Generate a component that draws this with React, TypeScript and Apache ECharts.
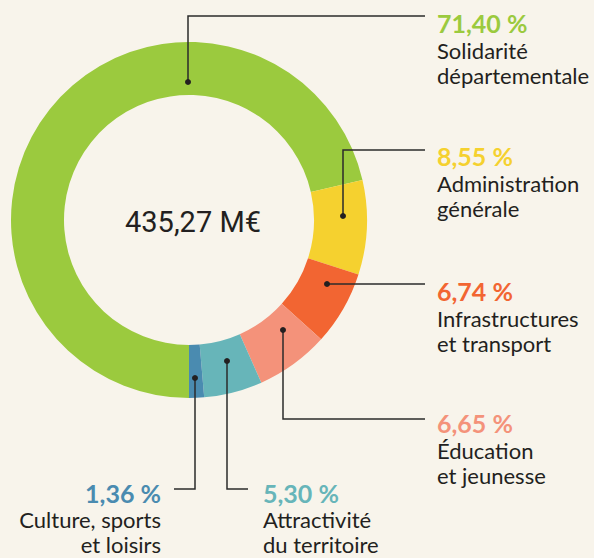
import React, { useEffect, useRef } from "react";
import * as echarts from "echarts";

const categories = [
  ["Solidarité", "départementale"],
  ["Administration", "générale"],
  ["Infrastructures", "et transport"],
  ["Éducation", "et jeunesse"],
  ["Attractivité", "du territoire"],
  ["Culture, sports", "et loisirs"],
];
const shares = [71.4, 8.55, 6.74, 6.65, 5.3, 1.36];
const colors = ["#9bca3e", "#f5d12f", "#f26532", "#f4927a", "#67b5b9", "#4a8bb0"];
const totalBudget = 435.27;

// annotation layout (leader lines and label anchors)
const leaders = [
  { pts: [[188, 82], [188, 16], [425, 16]], tx: 437, ty: 32, l1: 26, l2: 51, align: "left" },
  { pts: [[343, 216], [343, 150], [425, 150]], tx: 437, ty: 165, l1: 26, l2: 51, align: "left" },
  { pts: [[327, 284], [425, 284]], tx: 437, ty: 300, l1: 26, l2: 51, align: "left" },
  { pts: [[283, 330], [283, 419], [425, 419]], tx: 437, ty: 432, l1: 26, l2: 51, align: "left" },
  { pts: [[227, 361], [227, 489], [248, 489]], tx: 263, ty: 502, l1: 25, l2: 50, align: "left" },
  { pts: [[195, 378], [195, 489], [174, 489]], tx: 161, ty: 502, l1: 25, l2: 50, align: "right" },
];

const fmt = (v: number) => v.toFixed(2).replace(".", ",");

export default function App() {
  const ref = useRef<HTMLDivElement>(null);
  useEffect(() => {
    document.body.style.margin = "0";
    const chart = echarts.init(ref.current!, null, { renderer: "svg" });
    const PCT = 25;
    const BODY = 22;
    const graphics: any[] = [];
    leaders.forEach((l, i) => {
      graphics.push({
        type: "polyline",
        z: 100,
        shape: { points: l.pts },
        style: { stroke: "#2b2b2b", lineWidth: 1.5, fill: null },
        silent: true,
      });
      graphics.push({
        type: "circle",
        z: 101,
        shape: { cx: l.pts[0][0], cy: l.pts[0][1], r: 3 },
        style: { fill: "#231f20" },
        silent: true,
      });
      graphics.push({
        type: "text",
        z: 100,
        x: l.tx,
        y: l.ty - 0.36 * PCT,
        style: {
          text: fmt(shares[i]) + " %",
          font: `bold ${PCT}px Lato`,
          lineHeight: 24,
          fill: colors[i],
          align: l.align,
          verticalAlign: "middle",
        },
      });
      categories[i].forEach((line, j) => {
        const base = l.ty + (j === 0 ? l.l1 : l.l2);
        graphics.push({
          type: "text",
          z: 100,
          x: l.tx,
          y: base - 0.36 * BODY,
          style: {
            text: line,
            font: `${BODY}px Lato`,
            lineHeight: 22,
            fill: "#231f20",
            align: l.align,
            verticalAlign: "middle",
          },
        });
      });
    });
    graphics.push({
      type: "text",
      z: 100,
      x: 193,
      y: 222,
      style: {
        text: fmt(totalBudget) + " M€",
        font: "29px Roboto",
        fill: "#231f20",
        align: "center",
        verticalAlign: "middle",
      },
    });

    chart.setOption({
      animation: false,
      backgroundColor: "#f8f4eb",
      series: [
        {
          type: "pie",
          z: 1,
          center: [189, 220],
          radius: [125, 178],
          startAngle: -90,
          clockwise: true,
          label: { show: false },
          labelLine: { show: false },
          emphasis: { disabled: true },
          data: shares.map((v, i) => ({
            value: v,
            name: categories[i].join(" "),
            itemStyle: { color: colors[i] },
          })),
        },
      ],
      graphic: graphics,
    });
    return () => chart.dispose();
  }, []);
  return (
    <div
      ref={ref}
      style={{ position: "fixed", left: 0, top: 0, width: 594, height: 558 }}
    />
  );
}
